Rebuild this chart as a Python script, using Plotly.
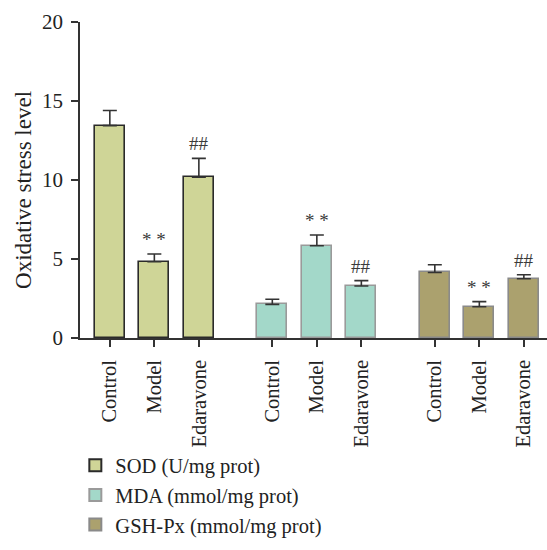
import plotly.graph_objects as go

groups = ["Control", "Model", "Edaravone"]
series = ["SOD (U/mg prot)", "MDA (mmol/mg prot)", "GSH-Px (mmol/mg prot)"]

sod_mean = [13.44, 4.83, 10.17]
sod_err = [0.96, 0.49, 1.20]
mda_mean = [2.13, 5.84, 3.29]
mda_err = [0.32, 0.68, 0.34]
gsh_mean = [4.15, 1.98, 3.75]
gsh_err = [0.49, 0.32, 0.25]

sod_marks = ["", "* *", "##"]
mda_marks = ["", "* *", "##"]
gsh_marks = ["", "* *", "##"]

# bar slots along the x axis, three per series with a wider gap between series
slots = [[0, 1, 2], [3.65, 4.65, 5.65], [7.3, 8.3, 9.3]]
fills = ["#cfd597", "#a3d8c9", "#aba16e"]
edges = ["#2a2a2a", "#9a9a9a", "#8a8a8a"]

FONT = "Liberation Serif"
INK = "#222222"
fig = go.Figure()
annotations = []
for name, xs, means, errs, marks, fill, edge in zip(
    series, slots,
    [sod_mean, mda_mean, gsh_mean],
    [sod_err, mda_err, gsh_err],
    [sod_marks, mda_marks, gsh_marks],
    fills, edges,
):
    fig.add_trace(go.Bar(
        x=xs, y=means, name=name, width=0.67,
        marker=dict(color=fill, line=dict(color=edge, width=1.6)),
        error_y=dict(type="data", symmetric=False, array=errs,
                     arrayminus=[0] * len(errs), color="#333333",
                     thickness=1.6, width=7),
    ))
    for x, m, e, t in zip(xs, means, errs, marks):
        if t:
            annotations.append(dict(
                x=x, y=m + e, text=t, showarrow=False, yanchor="bottom",
                yshift=2, font=dict(family=FONT, size=19, color="#3a3a3a"),
            ))

# y-axis title, set slightly below the middle of the axis
annotations.append(dict(
    text="Oxidative stress level", textangle=-90, showarrow=False,
    xref="paper", yref="paper", x=-0.121, y=0.47,
    xanchor="center", yanchor="middle",
    font=dict(family=FONT, size=23, color=INK),
))

tickvals = [x for xs in slots for x in xs]
ticktext = groups * 3

fig.update_layout(
    width=547, height=550,
    margin=dict(l=80, r=0, t=22, b=212),
    paper_bgcolor="white", plot_bgcolor="white",
    font=dict(family=FONT, size=20, color=INK),
    showlegend=True,
    bargap=0,
    legend=dict(
        orientation="v", x=-0.01, xanchor="left", y=-0.34, yanchor="top",
        bgcolor="rgba(0,0,0,0)",
        font=dict(family=FONT, size=20.5, color=INK),
        itemsizing="constant", tracegroupgap=0,
    ),
    annotations=annotations,
)
fig.update_xaxes(
    range=[-0.67, 9.82], tickvals=tickvals, ticktext=ticktext,
    tickangle=-90, ticks="outside", ticklen=7, tickwidth=1.5,
    tickcolor="#333333", showline=True, linecolor="#333333", linewidth=1.5,
    showgrid=False, zeroline=False, ticklabelstandoff=5,
    tickfont=dict(family=FONT, size=20.5, color=INK),
)
fig.update_yaxes(
    range=[0, 20], tickvals=[0, 5, 10, 15, 20],
    ticks="outside", ticklen=7, tickwidth=1.5, tickcolor="#333333",
    showline=True, linecolor="#333333", linewidth=1.5,
    showgrid=False, zeroline=False, ticklabelstandoff=4,
    tickfont=dict(family=FONT, size=21, color=INK),
)

fig.write_html("out.html")
